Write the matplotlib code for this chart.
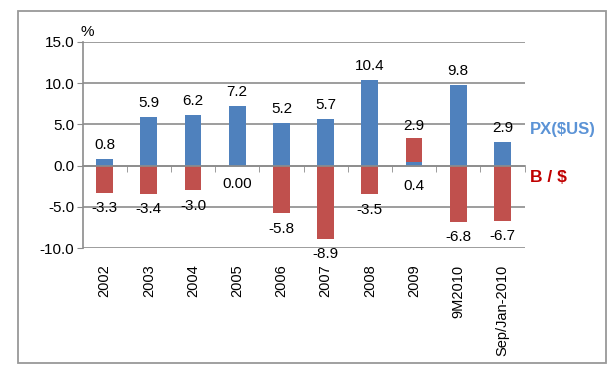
import numpy as np
import matplotlib
matplotlib.use("Agg")
import matplotlib.pyplot as plt
from matplotlib.patches import Rectangle

plt.rcParams["font.family"] = ["Liberation Sans", "DejaVu Sans"]

# data
categories = ["2002", "2003", "2004", "2005", "2006", "2007", "2008", "2009", "9M2010", "Sep/Jan-2010"]
px_usd = [0.8, 5.9, 6.2, 7.2, 5.2, 5.7, 10.4, 0.4, 9.8, 2.9]
baht_usd = [-3.3, -3.4, -3.0, 0.0, -5.8, -8.9, -3.5, 2.9, -6.8, -6.7]

blue = "#4f81bd"
red = "#c0504d"
grid_col = "#8c8c8c"

px = np.array(px_usd)
bd = np.array(baht_usd)
x = np.arange(len(categories))
red_bottom = np.where(bd > 0, px, 0)

fig = plt.figure(figsize=(6.13, 3.73), dpi=100)
ax = fig.add_axes([0.1346, 0.3351, 0.7212, 0.5523])

ax.bar(x, px, width=0.38, color=blue, zorder=3)
ax.bar(x, bd, width=0.38, bottom=red_bottom, color=red, zorder=3)


def fmt(v):
    return "0.00" if v == 0 else f"{v:.1f}"


for i in range(len(x)):
    if bd[i] > 0:
        # stacked case: PX below the zero line, B/$ above the stack
        ax.annotate(fmt(px[i]), (x[i], 0), xytext=(0, -15), textcoords="offset points",
                    ha="center", va="center", fontsize=11)
        ax.annotate(fmt(bd[i]), (x[i], px[i] + bd[i]), xytext=(0, 9), textcoords="offset points",
                    ha="center", va="center", fontsize=11)
    else:
        ax.annotate(fmt(px[i]), (x[i], px[i]), xytext=(0, 10), textcoords="offset points",
                    ha="center", va="center", fontsize=11)
        ax.annotate(fmt(bd[i]), (x[i], bd[i]), xytext=(0, -11 if bd[i] < 0 else -13),
                    textcoords="offset points", ha="center", va="center", fontsize=11)

ax.set_ylim(-10, 15)
ax.set_xlim(-0.5, len(x) - 0.5)
ax.set_yticks([-10, -5, 0, 5, 10, 15])
ax.set_yticklabels([f"{v:.1f}" for v in [-10, -5, 0, 5, 10, 15]], fontsize=11)
ax.yaxis.grid(True, color=grid_col, linewidth=1.2, zorder=1)
ax.tick_params(axis="y", length=4, color=grid_col, pad=2)

for s in ["top", "right"]:
    ax.spines[s].set_visible(False)
ax.spines["left"].set_color(grid_col)
ax.spines["left"].set_linewidth(1.2)
ax.spines["bottom"].set_position(("data", 0))
ax.spines["bottom"].set_color(grid_col)
ax.spines["bottom"].set_linewidth(1.2)
ax.spines["bottom"].set_zorder(4)

# tick marks between categories on the zero line
ax.set_xticks(x + 0.5, minor=True)
ax.set_xticks([])
ax.tick_params(axis="x", which="minor", length=4, color=grid_col, direction="out")

# category labels below the plot
sec = ax.secondary_xaxis(0.0)
sec.set_xticks(x)
sec.set_xticklabels(categories, rotation=90, fontsize=10.5, va="top")
sec.tick_params(length=0, pad=12)
sec.spines["bottom"].set_visible(False)

fig.text(0.131, 0.915, "%", fontsize=11, ha="left", va="center")
fig.text(0.865, 0.652, "PX($US)", color="#5b93d6", fontsize=12, fontweight="bold",
         ha="left", va="center")
fig.text(0.865, 0.523, "B / $", color="#c00000", fontsize=12.5, fontweight="bold",
         ha="left", va="center")

fig.patches.append(Rectangle((0.0294, 0.026), 0.959, 0.944, transform=fig.transFigure,
                             fill=False, edgecolor="#999999", linewidth=1.3))

fig.savefig("out.png", dpi=100)
